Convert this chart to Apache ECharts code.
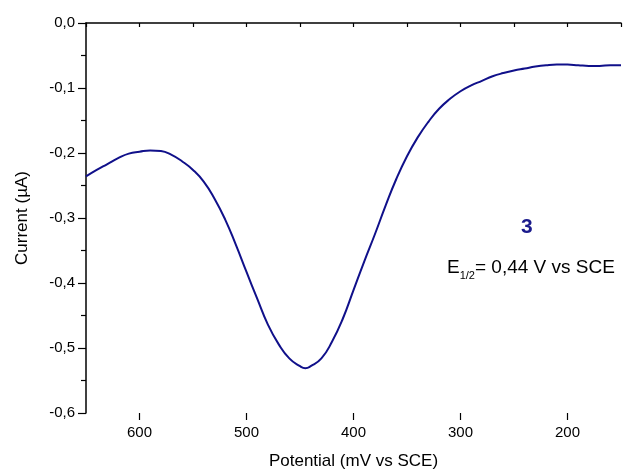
<!DOCTYPE html>
<html>
<head>
<meta charset="utf-8">
<script src="https://cdn.jsdelivr.net/npm/echarts@6/dist/echarts.min.js"></script>
<style>html,body{margin:0;padding:0;background:#fff}#c{width:624px;height:475px}</style>
</head>
<body>
<div id="c"></div>
<script>
// Potential (mV vs SCE)
var potential = [650, 640, 630, 620, 610, 600, 590, 580, 570, 560, 550, 540, 530, 520, 510, 500, 490, 480, 470, 460, 450, 445, 440, 430, 420, 410, 400, 390, 380, 370, 360, 350, 340, 330, 320, 310, 300, 290, 280, 270, 260, 250, 240, 230, 220, 210, 200, 190, 180, 170, 160, 150];
// Current (µA)
var current = [-0.236, -0.226, -0.217, -0.208, -0.201, -0.198, -0.196, -0.197, -0.203, -0.213, -0.226, -0.244, -0.270, -0.302, -0.341, -0.383, -0.424, -0.464, -0.494, -0.516, -0.528, -0.531, -0.528, -0.516, -0.490, -0.455, -0.411, -0.367, -0.325, -0.281, -0.240, -0.205, -0.176, -0.152, -0.132, -0.117, -0.105, -0.096, -0.089, -0.082, -0.077, -0.073, -0.070, -0.067, -0.065, -0.064, -0.064, -0.065, -0.066, -0.066, -0.065, -0.065];
var xMajorTicks = [600, 500, 400, 300, 200];
var xTitle = 'Potential (mV vs SCE)';
var yTitle = 'Current (µA)';
var peakLabel = '3';
var halfWaveLabel = ['E', '1/2', '= 0,44 V vs SCE'];

var pts = potential.map(function (p, i) { return [p, current[i]]; });
var font = 'Liberation Sans, Arial, sans-serif';
var chart = echarts.init(document.getElementById('c'));
chart.setOption({
  animation: false,
  backgroundColor: '#fff',
  grid: { left: 86, right: 1, top: 23, bottom: 60, containLabel: false },
  xAxis: [{
    type: 'value', min: 150, max: 650, interval: 50, inverse: true,
    name: xTitle, nameLocation: 'middle', nameGap: 40,
    nameTextStyle: { fontFamily: font, fontSize: 17, color: '#000' },
    axisLine: { lineStyle: { color: '#000', width: 1.5 } },
    axisTick: { inside: false, length: 4, lineStyle: { color: '#000', width: 1.2 } },
    axisLabel: { margin: 12, fontFamily: font, fontSize: 15, color: '#000',
      formatter: function (v) { return (v % 100 === 0) ? String(v) : ''; } },
    splitLine: { show: false }
  }, {
    type: 'value', min: 150, max: 650, inverse: true, position: 'bottom',
    axisLine: { show: false },
    axisTick: { show: true, length: 7, customValues: xMajorTicks, lineStyle: { color: '#000', width: 1.2 } },
    axisLabel: { show: false },
    splitLine: { show: false }
  }],
  yAxis: {
    type: 'value', min: -0.6, max: 0, interval: 0.1,
    name: yTitle, nameLocation: 'middle', nameGap: 55,
    nameTextStyle: { fontFamily: font, fontSize: 17, color: '#000' },
    axisLine: { show: true, lineStyle: { color: '#000', width: 1.5 } },
    axisTick: { inside: false, length: 8, lineStyle: { color: '#000', width: 1.2 } },
    minorTick: { show: true, splitNumber: 2, length: 5, lineStyle: { color: '#000', width: 1.2 } },
    axisLabel: { margin: 11, fontFamily: font, fontSize: 15, color: '#000',
      formatter: function (v) { return v.toFixed(1).replace('.', ',').replace('-0,0', '0,0'); } },
    splitLine: { show: false }
  },
  graphic: [{
    type: 'text', left: 521, top: 217,
    style: { text: peakLabel, font: 'bold 21px ' + font, fill: '#1a1a8c' }
  }, {
    type: 'text', left: 447, top: 258,
    style: {
      text: '{a|' + halfWaveLabel[0] + '}{s|' + halfWaveLabel[1] + '}{a|' + halfWaveLabel[2] + '}',
      rich: {
        a: { fontFamily: font, fontSize: 19, fill: '#000', color: '#000', verticalAlign: 'bottom' },
        s: { fontFamily: font, fontSize: 11, fill: '#000', color: '#000', verticalAlign: 'bottom', padding: [0, 0, -4, 0] }
      }
    }
  }],
  series: [{
    type: 'line', data: pts, showSymbol: false, smooth: 0.5,
    lineStyle: { color: '#10108a', width: 2 },
    itemStyle: { color: '#10108a' }
  }]
});
</script>
</body>
</html>
